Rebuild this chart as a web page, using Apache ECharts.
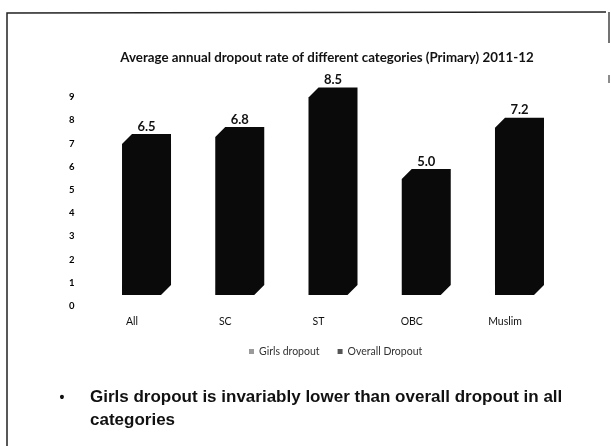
<!DOCTYPE html>
<html>
<head>
<meta charset="utf-8">
<script src="https://cdn.jsdelivr.net/npm/echarts@6/dist/echarts.min.js"></script>
<style>
html,body{margin:0;padding:0;background:#fff;}
#c{width:611px;height:446px;}
</style>
</head>
<body>
<div id="c"></div>
<script>
var categories = ['All', 'SC', 'ST', 'OBC', 'Muslim'];
var overallDropout = [6.5, 6.8, 8.5, 5.0, 7.2];
var girlsDropout = [];
var yTicks = [0, 1, 2, 3, 4, 5, 6, 7, 8, 9];
var seriesNames = ['Girls dropout', 'Overall Dropout'];
var titleText = 'Average annual dropout rate of different categories (Primary) 2011-12';
var noteText = 'Girls dropout is invariably lower than overall dropout in all\ncategories';

var chart = echarts.init(document.getElementById('c'));

var FRONT_OFFSET = -10, FRONT_W = 39, DEPTH = 10, LIFT = 11;

function render3D(params, api) {
  var i = api.value(0), v = api.value(1);
  var top = api.coord([i, v]);
  var base = api.coord([i, 0]);
  var x0 = top[0] + FRONT_OFFSET, x1 = x0 + FRONT_W;
  var yT = top[1] - LIFT, yB = base[1] - LIFT, d = DEPTH;
  return {
    type: 'group',
    children: [
      {type: 'polygon', shape: {points: [[x0, yT], [x0 + d, yT - d], [x1 + d, yT - d], [x1 + d, yB - d], [x1, yB], [x0, yB]]},
       style: {fill: '#0a0a0a'}},
      {type: 'text', x: x0 + (FRONT_W + d) / 2, y: yT - d - 1,
       style: {text: api.value(1).toFixed(1), fill: '#111', font: 'bold 13px Lato', align: 'center', verticalAlign: 'bottom'}}
    ]
  };
}

chart.setOption({
  animation: false,
  title: {
    text: titleText, left: 322, top: 46, textAlign: 'center',
    textStyle: {fontFamily: 'Lato', fontWeight: 'bold', fontSize: 13.3, color: '#111'}
  },
  legend: {
    data: seriesNames, left: 244, top: 341, itemWidth: 5, itemHeight: 5, itemGap: 18, icon: 'rect',
    textStyle: {fontFamily: 'Lato', fontSize: 10.5, color: '#333'}
  },
  grid: {left: 85.4, right: 59.4, top: 97, bottom: 140, containLabel: false},
  xAxis: {
    type: 'category', data: categories,
    axisLine: {show: false}, axisTick: {show: false},
    axisLabel: {fontFamily: 'Lato', fontSize: 10.5, color: '#111', margin: 10}
  },
  yAxis: {
    type: 'value', min: yTicks[0], max: yTicks[yTicks.length - 1], interval: 1,
    splitLine: {show: false}, axisLine: {show: false}, axisTick: {show: false},
    axisLabel: {fontFamily: 'Lato', fontWeight: 'bold', fontSize: 9.5, color: '#000', margin: 11}
  },
  series: [
    {name: seriesNames[0], type: 'custom', itemStyle: {color: '#9a9a9a'},
     data: girlsDropout, renderItem: render3D},
    {name: seriesNames[1], type: 'custom', itemStyle: {color: '#555'},
     encode: {x: 0, y: 1},
     data: categories.map(function (c, i) { return [i, overallDropout[i]]; }),
     renderItem: render3D}
  ],
  graphic: [
    {type: 'polyline', shape: {points: [[7, 446], [7, 13], [606, 12]]}, style: {stroke: '#222', lineWidth: 1.5, fill: null}},
    {type: 'line', shape: {x1: 609, y1: 12, x2: 609, y2: 43}, style: {stroke: '#444', lineWidth: 1.5}},
    {type: 'line', shape: {x1: 609, y1: 75, x2: 609, y2: 83}, style: {stroke: '#666', lineWidth: 1.5}},
    {type: 'text', x: 62, y: 398, style: {text: '•', font: 'bold 14px "Liberation Sans"', fill: '#111', align: 'center', verticalAlign: 'middle'}},
    {type: 'text', x: 90, y: 386, style: {text: noteText, font: 'bold 17px "Liberation Sans"', lineHeight: 23, fill: '#111'}}
  ]
});
</script>
</body>
</html>
